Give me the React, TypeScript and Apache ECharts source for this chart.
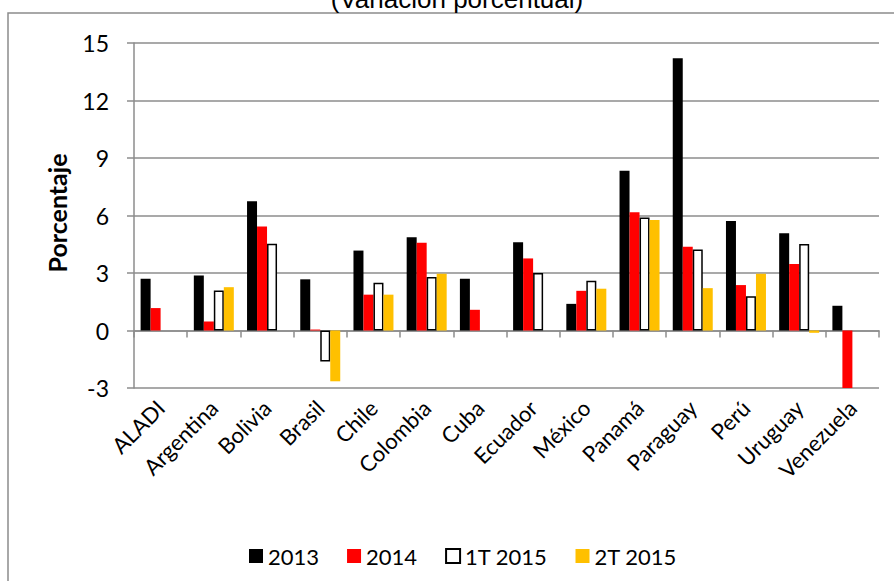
import React, { useEffect, useRef } from "react";
import * as echarts from "echarts";

const categories = ["ALADI", "Argentina", "Bolivia", "Brasil", "Chile", "Colombia", "Cuba", "Ecuador", "México", "Panamá", "Paraguay", "Perú", "Uruguay", "Venezuela"];
const s2013 = [2.7, 2.87, 6.74, 2.67, 4.17, 4.86, 2.7, 4.6, 1.39, 8.33, 14.2, 5.71, 5.07, 1.29];
const s2014 = [1.17, 0.47, 5.42, 0.05, 1.87, 4.58, 1.08, 3.76, 2.07, 6.17, 4.37, 2.37, 3.47, -3.0];
const s1T2015 = [null, 2.09, 4.53, -1.62, 2.49, 2.79, null, 3.0, 2.6, 5.89, 4.22, 1.79, 4.51, null];
const s2T2015 = [null, 2.26, null, -2.65, 1.87, 2.96, null, null, 2.18, 5.77, 2.21, 2.96, -0.12, null];
const seriesNames = ["2013", "2014", "1T 2015", "2T 2015"];
const yTicks = { min: -3, max: 15, interval: 3 };

const FONT = "Lato, 'Open Sans', sans-serif";
const GRAY = "#8c8c8c";

export default function App() {
  const ref = useRef<HTMLDivElement>(null);
  useEffect(() => {
    if (!ref.current) return;
    const chart = echarts.init(ref.current, undefined, { renderer: "svg" });
    const barBase = { type: "bar" as const, barWidth: 10, barGap: "0%", xAxisIndex: 0, yAxisIndex: 0 };
    chart.setOption({
      animation: false,
      backgroundColor: "#ffffff",
      grid: { left: 134, right: 15, top: 43, bottom: 193, containLabel: false },
      legend: {
        data: seriesNames,
        left: 244,
        top: 540,
        itemWidth: 14,
        itemHeight: 14,
        itemGap: 28,
        icon: "rect",
        textStyle: { fontFamily: FONT, fontSize: 22, color: "#000" },
      },
      xAxis: [
        {
          type: "category",
          data: categories,
          position: "bottom",
          axisLine: { show: false, onZero: false },
          axisTick: { show: false },
          axisLabel: { interval: 0, rotate: 45, margin: 16, fontFamily: FONT, fontSize: 22, color: "#000" },
          splitLine: { show: false },
        },
        {
          type: "category",
          data: categories,
          position: "top",
          axisLine: { show: true, onZero: true, onZeroAxisIndex: 0, lineStyle: { color: GRAY, width: 1.5 } },
          axisTick: { show: true, inside: true, length: 7, interval: 0, lineStyle: { color: GRAY, width: 1.5 } },
          axisLabel: { show: false },
          splitLine: { show: false },
        },
      ],
      yAxis: {
        type: "value",
        min: yTicks.min,
        max: yTicks.max,
        interval: yTicks.interval,
        axisLine: { show: true, onZero: false, lineStyle: { color: GRAY, width: 1.5 } },
        axisTick: { show: true, length: 7, lineStyle: { color: GRAY, width: 1.5 } },
        axisLabel: { margin: 25, fontFamily: FONT, fontSize: 23, color: "#000" },
        splitLine: { show: true, lineStyle: { color: GRAY, width: 1.5 } },
      },
      series: [
        { ...barBase, name: seriesNames[0], data: s2013, itemStyle: { color: "#000000" } },
        { ...barBase, name: seriesNames[1], data: s2014, itemStyle: { color: "#ff0000" } },
        { ...barBase, name: seriesNames[2], data: s1T2015, itemStyle: { color: "#ffffff", borderColor: "#000000", borderWidth: 1.5 } },
        { ...barBase, name: seriesNames[3], data: s2T2015, itemStyle: { color: "#ffc000" } },
      ],
      graphic: [
        {
          type: "polyline",
          shape: { points: [[8, 600], [8, 13], [900, 13]] },
          style: { stroke: GRAY, lineWidth: 1.5, fill: "none" },
          silent: true,
        },
        {
          type: "text",
          x: 457,
          y: -1,
          style: { text: "(Variación porcentual)", fontFamily: "'Liberation Sans', Arial, sans-serif", fontSize: 26, fill: "#000", align: "center", verticalAlign: "middle" },
          silent: true,
        },
        {
          type: "text",
          x: 57,
          y: 213,
          rotation: Math.PI / 2,
          style: { text: "Porcentaje", fontFamily: FONT, fontSize: 25, fontWeight: "bold", fill: "#000", align: "center", verticalAlign: "middle" },
          silent: true,
        },
      ],
    });
    return () => chart.dispose();
  }, []);
  return <div ref={ref} style={{ position: "absolute", left: 0, top: 0, width: 894, height: 581 }} />;
}
